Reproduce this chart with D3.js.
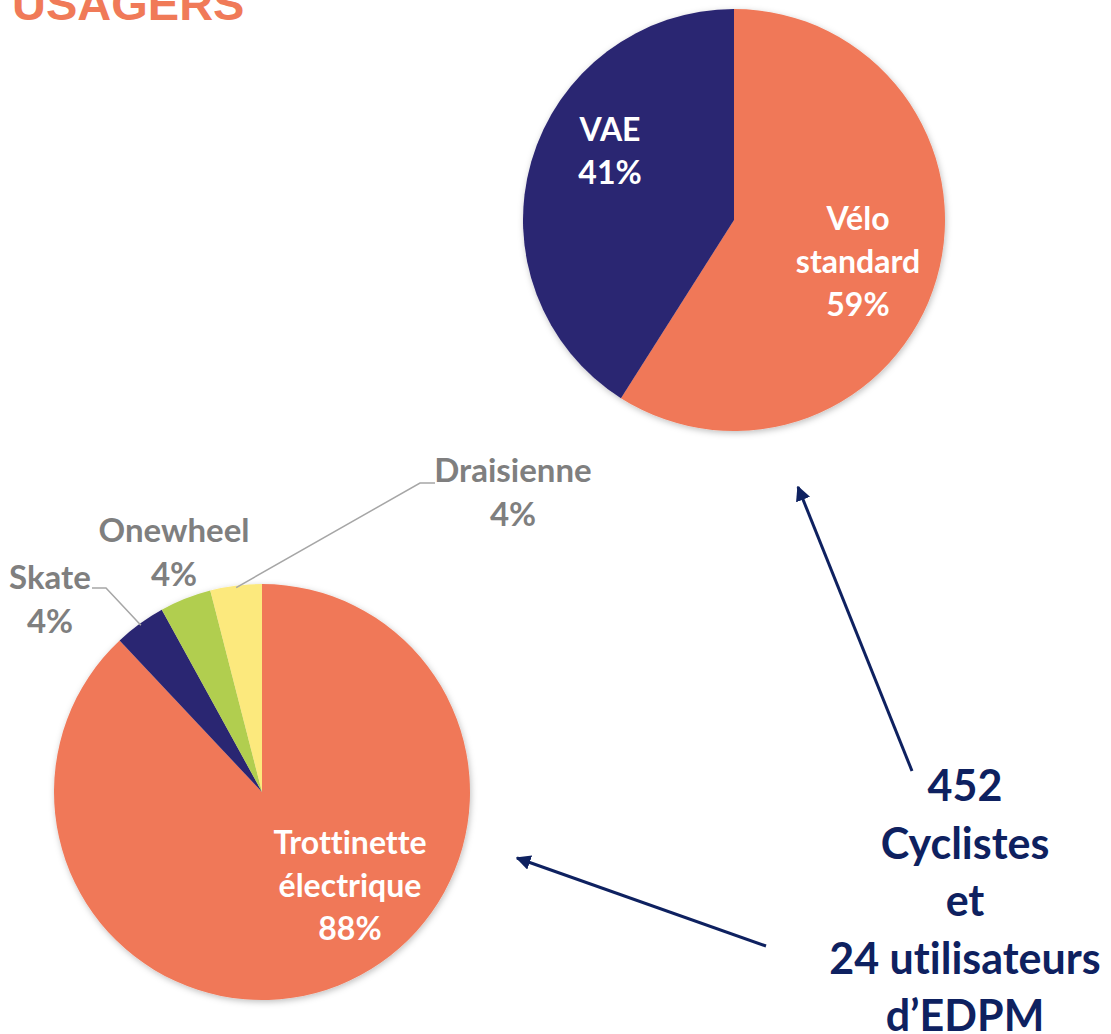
<!DOCTYPE html>
<html>
<head>
<meta charset="utf-8">
<script src="https://cdn.jsdelivr.net/npm/d3@7"></script>
<style>
  body { margin: 0; background: #fff; }
  svg { display: block; }
  text { font-variant-ligatures: none; font-feature-settings: "liga" 0; }
</style>
</head>
<body>
<div class="chart"></div>
<script>
var width = 1111;
var height = 1034;

// données
var veloCats = ['Vélo standard', 'VAE'];
var veloVals = [59, 41];
var edpmCats = ['Trottinette électrique', 'Skate', 'Onewheel', 'Draisienne'];
var edpmVals = [88, 4, 4, 4];
var totalLines = ['452', 'Cyclistes', 'et', '24 utilisateurs', 'd\u2019EDPM'];

var veloColors = ['#F07858', '#2B2572'];
var edpmColors = ['#F07858', '#2B2572', '#B1CE4F', '#FCE97D'];

var font = 'Lato, "Open Sans", sans-serif';

var svg = d3.select('.chart')
	.append('svg')
		.attr('width', width)
		.attr('height', height);

var defs = svg.append('defs');

var shadow = defs.append('filter')
	.attr('id', 'shadow')
	.attr('x', '-10%').attr('y', '-10%')
	.attr('width', '120%').attr('height', '120%');
shadow.append('feDropShadow')
	.attr('dx', 1).attr('dy', 2)
	.attr('stdDeviation', 3)
	.attr('flood-color', '#000')
	.attr('flood-opacity', 0.25);

defs.append('marker')
	.attr('id', 'arrow')
	.attr('viewBox', '0 0 10 10')
	.attr('refX', 9).attr('refY', 5)
	.attr('markerWidth', 5).attr('markerHeight', 5)
	.attr('orient', 'auto')
	.append('path')
		.attr('d', 'M0,0 L10,5 L0,10 z')
		.attr('fill', '#0E2160');

// titre (coupé en haut)
svg.append('text')
	.attr('x', 12)
	.attr('y', 20)
	.style('font-family', 'Arial, "Liberation Sans", sans-serif')
	.style('font-weight', 'bold')
	.style('font-size', '47px')
	.style('fill', '#F07A58')
	.text('USAGERS');

var pie = d3.pie().sort(null);

function drawPie(cx, cy, r, cats, vals, colors) {
	var g = svg.append('g')
		.attr('transform', `translate(${cx}, ${cy})`);
	var arc = d3.arc().innerRadius(0).outerRadius(r);
	var arcs = pie(vals);
	g.append('g')
		.attr('filter', 'url(#shadow)')
		.selectAll('path')
		.data(arcs)
		.enter()
		.append('path')
		.attr('d', arc)
		.attr('fill', (d, i) => colors[i]);
	return {g: g, arcs: arcs, arc: arc};
}

function multiText(parent, x, y, lines, size, color, lh) {
	var t = parent.append('text')
		.attr('text-anchor', 'middle')
		.style('font-family', font)
		.style('font-weight', 'bold')
		.style('font-size', size + 'px')
		.style('fill', color);
	lines.forEach((l, i) => {
		t.append('tspan')
			.attr('x', x)
			.attr('y', y + i * lh)
			.text(l);
	});
	return t;
}

// camembert vélos
var velo = drawPie(734, 220, 211, veloCats, veloVals, veloColors);
multiText(velo.g, 124, 10, ['Vélo', 'standard', veloVals[0] + '%'], 32, '#fff', 43);
multiText(velo.g, -124, -79, [veloCats[1], veloVals[1] + '%'], 32, '#fff', 43);

// camembert EDPM
var edpm = drawPie(262, 792, 208, edpmCats, edpmVals, edpmColors);
multiText(edpm.g, 88, 62, ['Trottinette', 'électrique', edpmVals[0] + '%'], 32, '#fff', 43);

var grey = '#7F7F7F';
// étiquettes extérieures avec lignes de rappel
var outer = [
	{i: 3, tx: 513, ty: 482, line: [[435, 483], [420, 483]]},
	{i: 2, tx: 174, ty: 542, line: null},
	{i: 1, tx: 50, ty: 589, line: [[92, 588], [106, 588]]}
];
outer.forEach(o => {
	multiText(svg, o.tx, o.ty, [edpmCats[o.i], edpmVals[o.i] + '%'], 33, grey, 44);
	if (o.line) {
		var a = edpm.arcs[o.i];
		var mid = (a.startAngle + a.endAngle) / 2;
		var rr = 208 - 2;
		var px = 262 + Math.sin(mid) * rr;
		var py = 792 - Math.cos(mid) * rr;
		svg.append('polyline')
			.attr('points', [o.line[0], o.line[1], [px, py]].map(p => p.join(',')).join(' '))
			.attr('fill', 'none')
			.attr('stroke', '#A6A6A6')
			.attr('stroke-width', 1.5);
	}
});

// flèches
svg.append('line')
	.attr('x1', 912).attr('y1', 771)
	.attr('x2', 798).attr('y2', 487)
	.attr('stroke', '#0E2160')
	.attr('stroke-width', 3)
	.attr('marker-end', 'url(#arrow)');
svg.append('line')
	.attr('x1', 766).attr('y1', 946)
	.attr('x2', 517).attr('y2', 858)
	.attr('stroke', '#0E2160')
	.attr('stroke-width', 3)
	.attr('marker-end', 'url(#arrow)');

multiText(svg, 965, 801, totalLines, 43, '#0E2160', 57.5);
</script>
</body>
</html>
